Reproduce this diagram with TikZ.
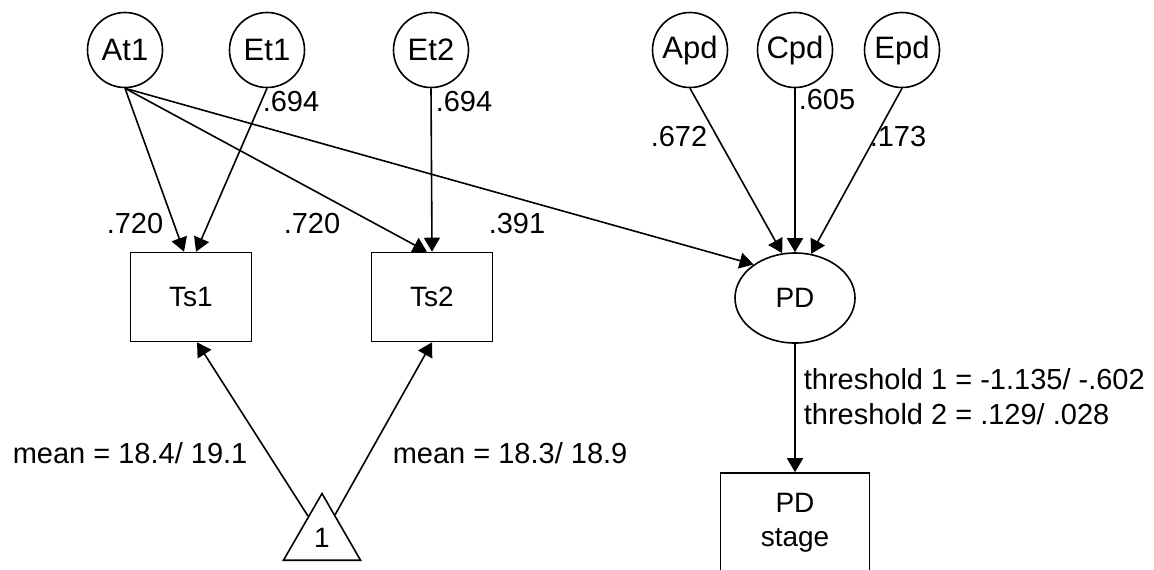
\documentclass[tikz,border=0pt]{standalone}
\usepackage{fontspec}
\setmainfont{Liberation Sans}
\usetikzlibrary{arrows.meta,shapes.geometric}

\tikzset{
  latent/.style={draw,circle,minimum size=37.5pt,inner sep=0pt,font=\fontsize{15.5}{18}\selectfont},
  observed/.style={draw,rectangle,minimum width=60.5pt,minimum height=44.5pt,inner sep=0pt},
  effect/.style={-{Triangle[length=7pt,width=8pt]}},
  coef/.style={inner sep=0pt,font=\fontsize{14.5}{17}\selectfont}
}

\begin{document}
\begin{tikzpicture}[x=0.5pt,y=-0.5pt,line width=0.8pt,font=\fontsize{14}{17}\selectfont]
        \useasboundingbox (0,0) rectangle (1154,569);

        % latent variables
        \node[latent] (at1) at (125,50) {At1};
        \node[latent] (et1) at (267,50) {Et1};
        \node[latent] (et2) at (431,50) {Et2};
        \node[latent] (apd) at (690,50) {Apd};
        \node[latent] (cpd) at (795,50) {Cpd};
        \node[latent] (epd) at (902,50) {Epd};

        % measured
        \node[observed] (ts1) at (191,297) {Ts1};
        \node[observed] (ts2) at (432,297) {Ts2};
        \node[draw,ellipse,minimum width=60pt,minimum height=45pt,inner sep=0pt] (pd) at (795,298) {PD};
        \node[draw,rectangle,minimum width=74.5pt,minimum height=50pt,inner sep=0pt,align=center] (stage) at (795,523) {PD\\stage};
        \node[draw,regular polygon,regular polygon sides=3,minimum size=44.5pt,inner sep=0pt] (one) at (322,538) {1};

        % paths
        \draw[effect] (at1.south) -- ([xshift=-3.5pt]ts1.north);
        \draw[effect] (et1.south) -- ([xshift=2.5pt]ts1.north);
        \draw[effect] (at1.south) -- ([xshift=-2.5pt]ts2.north);
        \draw[effect] (et2.south) -- (ts2.north);
        \draw[effect] (at1.south) -- (pd.141);
        \draw[effect] (apd.south) -- (pd.106);
        \draw[effect] (cpd.south) -- (pd.north);
        \draw[effect] (epd.south) -- (pd.70);
        \draw[effect] (pd.south) -- (stage.north);
        \draw[effect] (one) -- ([xshift=3pt]ts1.south);
        \draw[effect] (one) -- (ts2.south);

        % coefficients
        \node[coef] (a1ts1) at (135,224) {.720};
        \node[coef] (a1ts2) at (312,224) {.720};
        \node[coef] (a1pd) at (517,224) {.391};
        \node[coef] (e1ts1) at (291,102) {.694};
        \node[coef] (e2ts2) at (464,102) {.694};
        \node[coef] (apdpd) at (679,137) {.672};
        \node[coef] (cpdpd) at (827,100) {.605};
        \node[coef] (epdpd) at (898,137) {.173};

        \node[coef,anchor=base west] (mean1) at (12,463) {mean = 18.4/ 19.1};
        \node[coef,anchor=base west] (mean2) at (392,463) {mean = 18.3/ 18.9};
        \node[coef,anchor=base west] (thr1) at (803,389) {threshold 1 = -1.135/ -.602};
        \node[coef,anchor=base west] (thr2) at (803,424) {threshold 2 = .129/ .028};

\end{tikzpicture}
\end{document}
